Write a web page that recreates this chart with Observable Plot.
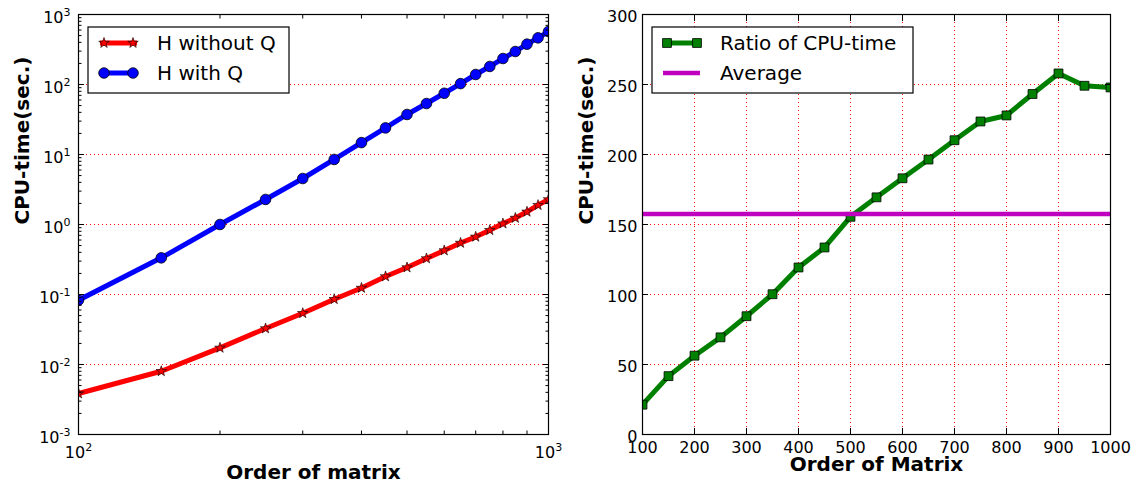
<!DOCTYPE html>
<html>
<head>
<meta charset="utf-8">
<script src="https://cdn.jsdelivr.net/npm/d3@7"></script>
<script src="https://cdn.jsdelivr.net/npm/@observablehq/plot@0.6"></script>
<style>
  body { margin: 0; background: #fff; }
  #charts { display: flex; width: 1142px; height: 491px; }
</style>
</head>
<body>
<div id="charts"></div>
<script>
// Matrix orders (shared x values of both panels)
const orders = [100, 150, 200, 250, 300, 350, 400, 450, 500, 550, 600, 650, 700, 750, 800, 850, 900, 950, 1000];

// CPU time in seconds for the two variants
const timeWithoutQ = [0.00385, 0.0080, 0.0173, 0.0327, 0.054, 0.0857, 0.124, 0.181, 0.243, 0.327, 0.425, 0.545, 0.667, 0.83, 1.03, 1.24, 1.52, 1.89, 2.28];
const timeWithQ = [0.083, 0.334, 1.0, 2.28, 4.54, 8.5, 14.8, 24, 37.3, 53.5, 75, 103, 139, 181, 235, 296, 377, 464, 571];

// Ratio of CPU times and its average
const cpuRatio = [21.3, 41.7, 56.3, 69.4, 84.5, 100.2, 119.3, 133.6, 155.5, 169.4, 183, 196.4, 210.2, 223.6, 227.9, 243.2, 257.9, 249.1, 247.9];
const averageRatio = 157.5;

// Series names and axis titles
const seriesLeft = ["H without Q", "H with Q"];
const seriesRight = ["Ratio of CPU-time", "Average"];
const xTitleLeft = "Order of matrix";
const xTitleRight = "Order of Matrix";
const yTitle = "CPU-time(sec.)";

// Tick positions
const xMajorLeft = [100, 1000];
const xMinorLeft = [200, 300, 400, 500, 600, 700, 800, 900];
const yMajorLeft = [1e-3, 1e-2, 1e-1, 1, 10, 100, 1000];
const yMinorLeft = yMajorLeft.slice(0, -1).flatMap(d => [2, 3, 4, 5, 6, 7, 8, 9].map(k => k * d));
const xTicksRight = [100, 200, 300, 400, 500, 600, 700, 800, 900, 1000];
const yTicksRight = [0, 50, 100, 150, 200, 250, 300];

const font = "DejaVu Sans";
const red = "#ff0000", blue = "#0000ff", green = "#008000", magenta = "#bf00bf";
const gridStyle = {stroke: red, strokeWidth: 1, strokeDasharray: "1,3"};
const baseStyle = {fontFamily: font, fontSize: "16px", color: "black", background: "white", overflow: "visible"};

const pow10 = d => "10^" + Math.round(Math.log10(d));

// Inward-pointing tick marks on one side of the frame, without labels
function innerTicks(axis, anchor, ticks, size) {
  const opts = {anchor, ticks, tickSize: -size, tickFormat: () => null, label: null};
  return axis === "x" ? Plot.axisX(opts) : Plot.axisY(opts);
}

// Turn "10^k" tick labels into a base with a raised exponent
function superscripts(svg) {
  d3.select(svg).selectAll('g[aria-label$="tick label"] text').each(function () {
    const t = this.textContent;
    if (!t.includes("^")) return;
    const [base, exp] = t.split("^");
    const sel = d3.select(this);
    sel.text(base);
    sel.append("tspan").attr("dy", -7).attr("font-size", 11).text(exp);
  });
}

// Boxed legend in the upper left corner
function drawLegend(svg, box, entries) {
  const g = d3.select(svg).append("g")
    .attr("font-family", font).attr("font-size", 20).attr("text-anchor", "start");
  g.append("rect")
    .attr("x", box.x).attr("y", box.y).attr("width", box.w).attr("height", box.h)
    .attr("fill", "white").attr("stroke", "black").attr("stroke-width", 1.2);
  entries.forEach((e, i) => {
    const y = box.y + 16 + i * 30;
    g.append("line")
      .attr("x1", box.x + box.lx1).attr("x2", box.x + box.lx2)
      .attr("y1", y).attr("y2", y)
      .attr("stroke", e.color).attr("stroke-width", e.width);
    if (e.symbol) {
      for (const mx of [box.x + box.m1, box.x + box.m2]) {
        g.append("path")
          .attr("d", d3.symbol(e.symbol, Math.PI * e.r * e.r)())
          .attr("transform", `translate(${mx},${y})`)
          .attr("fill", e.color).attr("stroke", "black").attr("stroke-width", e.sw);
      }
    }
    g.append("text").attr("x", box.x + box.tx).attr("y", y).attr("dy", "0.35em")
      .attr("text-anchor", "start").text(e.label);
  });
}

// Left panel: CPU time on log-log axes
const rowsLeft = orders.map((n, i) => ({n, without: timeWithoutQ[i], with: timeWithQ[i]}));

const left = Plot.plot({
  width: 571, height: 491,
  marginLeft: 78, marginRight: 23, marginTop: 14, marginBottom: 57,
  style: baseStyle,
  x: {type: "log", domain: [100, 1000]},
  y: {type: "log", domain: [1e-3, 1e3]},
  marks: [
    Plot.ruleY(yMajorLeft.slice(1, -1), gridStyle),
    Plot.line(rowsLeft, {x: "n", y: "without", stroke: red, strokeWidth: 5, clip: true}),
    Plot.dot(rowsLeft, {x: "n", y: "without", symbol: "star", r: 3.3, fill: red, stroke: "black", strokeWidth: 0.6, clip: true}),
    Plot.line(rowsLeft, {x: "n", y: "with", stroke: blue, strokeWidth: 5, clip: true}),
    Plot.dot(rowsLeft, {x: "n", y: "with", r: 5.3, fill: blue, stroke: "black", strokeWidth: 0.8, clip: true}),
    innerTicks("y", "left", yMajorLeft, 6),
    innerTicks("y", "right", yMajorLeft, 6),
    innerTicks("y", "left", yMinorLeft, 3.5),
    innerTicks("y", "right", yMinorLeft, 3.5),
    innerTicks("x", "bottom", xMinorLeft, 3.5),
    innerTicks("x", "top", xMinorLeft, 3.5),
    Plot.axisY({anchor: "left", ticks: yMajorLeft, tickSize: 0, tickPadding: 8, dy: 3, tickFormat: pow10, label: null}),
    Plot.axisX({anchor: "bottom", ticks: xMajorLeft, tickSize: 0, tickPadding: 12, tickFormat: pow10, label: null}),
    Plot.text([xTitleLeft], {frameAnchor: "bottom", dy: 44, fontWeight: "bold", fontSize: 20}),
    Plot.text([yTitle], {frameAnchor: "left", dx: -56, rotate: -90, fontWeight: "bold", fontSize: 20}),
    Plot.frame({stroke: "black", strokeWidth: 1.2})
  ]
});
superscripts(left);
drawLegend(left, {x: 88, y: 27, w: 201, h: 66, lx1: 12, lx2: 49, m1: 16, m2: 45, tx: 69}, [
  {label: seriesLeft[0], color: red, width: 5, symbol: d3.symbolStar, r: 3.3, sw: 0.6},
  {label: seriesLeft[1], color: blue, width: 5, symbol: d3.symbolCircle, r: 5.3, sw: 0.8}
]);

// Right panel: ratio of CPU times on linear axes
const rowsRight = orders.map((n, i) => ({n, ratio: cpuRatio[i]}));

const right = Plot.plot({
  width: 571, height: 491,
  marginLeft: 71, marginRight: 32, marginTop: 14, marginBottom: 57,
  style: baseStyle,
  x: {domain: [100, 1000]},
  y: {domain: [0, 300]},
  marks: [
    Plot.ruleX(xTicksRight.slice(1, -1), gridStyle),
    Plot.ruleY(yTicksRight.slice(1, -1), gridStyle),
    Plot.line(rowsRight, {x: "n", y: "ratio", stroke: green, strokeWidth: 5, clip: true}),
    Plot.dot(rowsRight, {x: "n", y: "ratio", symbol: "square", r: 5, fill: green, stroke: "black", strokeWidth: 0.8, clip: true}),
    Plot.ruleY([averageRatio], {stroke: magenta, strokeWidth: 4.5}),
    innerTicks("y", "left", yTicksRight, 6),
    innerTicks("y", "right", yTicksRight, 6),
    innerTicks("x", "bottom", xTicksRight, 6),
    innerTicks("x", "top", xTicksRight, 6),
    Plot.axisY({anchor: "left", ticks: yTicksRight, tickSize: 0, tickPadding: 5, dy: 2, tickFormat: d => String(d), label: null}),
    Plot.axisX({anchor: "bottom", ticks: xTicksRight, tickSize: 0, tickPadding: 7, tickFormat: d => String(d), label: null}),
    Plot.text([xTitleRight], {frameAnchor: "bottom", dy: 36, fontWeight: "bold", fontSize: 20}),
    Plot.text([yTitle], {frameAnchor: "left", dx: -56, rotate: -90, fontWeight: "bold", fontSize: 20}),
    Plot.frame({stroke: "black", strokeWidth: 1.2})
  ]
});
drawLegend(right, {x: 81, y: 27, w: 261, h: 66, lx1: 11, lx2: 48, m1: 15, m2: 45, tx: 68}, [
  {label: seriesRight[0], color: green, width: 5, symbol: d3.symbolSquare, r: 5, sw: 0.8},
  {label: seriesRight[1], color: magenta, width: 4.5}
]);

document.getElementById("charts").append(left, right);
</script>
</body>
</html>
